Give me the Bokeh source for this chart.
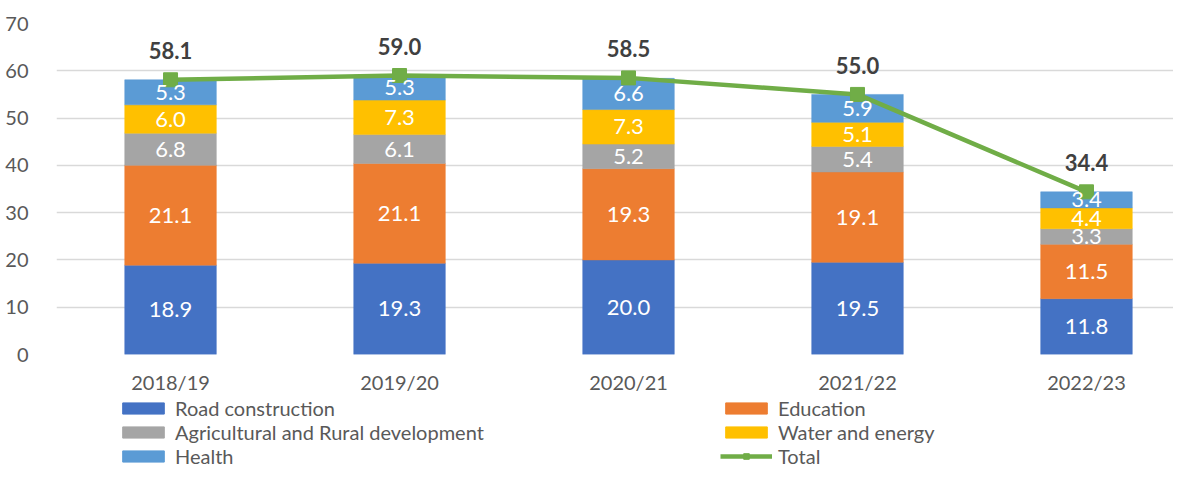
from bokeh.plotting import figure
from bokeh.layouts import column
from bokeh.models import ColumnDataSource, LabelSet, Legend, LegendItem, FixedTicker, Range1d
from bokeh.embed import file_html
from bokeh.resources import INLINE
from bokeh.core.properties import value

years = ["2018/19", "2019/20", "2020/21", "2021/22", "2022/23"]
road = [18.9, 19.3, 20.0, 19.5, 11.8]
education = [21.1, 21.1, 19.3, 19.1, 11.5]
agri = [6.8, 6.1, 5.2, 5.4, 3.3]
water = [6.0, 7.3, 7.3, 5.1, 4.4]
health = [5.3, 5.3, 6.6, 5.9, 3.4]
total = [58.1, 59.0, 58.5, 55.0, 34.4]

series_names = ["Road construction", "Education", "Agricultural and Rural development",
                "Water and energy", "Health"]
series_vals = [road, education, agri, water, health]
colors = ["#4472C4", "#ED7D31", "#A5A5A5", "#FFC000", "#5B9BD5"]
total_color = "#70AD47"

FONT = "Lato"
xs = list(range(len(years)))

p = figure(width=1173, height=396, output_backend="svg", toolbar_location=None,
           x_range=Range1d(-0.498, 4.380), y_range=Range1d(0, 70),
           min_border_left=56, min_border_right=0, min_border_top=23, min_border_bottom=41)
p.outline_line_color = None
p.background_fill_color = "white"
p.border_fill_color = "white"

bottoms = [0.0] * len(years)
for name, vals, col in zip(series_names, series_vals, colors):
    tops = [b + v for b, v in zip(bottoms, vals)]
    mids = [(b + t) / 2 for b, t in zip(bottoms, tops)]
    src = ColumnDataSource(dict(x=xs, bottom=bottoms, top=tops, mid=mids,
                                lab=[f"{v:.1f}" for v in vals]))
    p.vbar(x="x", bottom="bottom", top="top", width=0.4, source=src,
           fill_color=col, line_color=col, line_width=0.5)
    p.add_layout(LabelSet(x="x", y="mid", text="lab", source=src, text_color="white",
                          text_font=value(FONT), text_font_size="22px",
                          text_align="center", text_baseline="middle"))
    bottoms = tops

tsrc = ColumnDataSource(dict(x=xs, y=total, lab=[f"{v:.1f}" for v in total]))
p.line("x", "y", source=tsrc, line_color=total_color, line_width=4.5)
p.scatter("x", "y", source=tsrc, marker="square", size=14,
          fill_color=total_color, line_color=total_color)
p.add_layout(LabelSet(x="x", y="y", text="lab", source=tsrc, text_color="#404040",
                      text_font=value(FONT), text_font_size="22px", text_font_style="bold",
                      text_align="center", text_baseline="middle", y_offset=29))

# axes
p.xaxis.ticker = FixedTicker(ticks=xs)
p.xaxis.major_label_overrides = {i: y for i, y in enumerate(years)}
p.yaxis.ticker = FixedTicker(ticks=list(range(0, 71, 10)))
for ax in (p.xaxis[0], p.yaxis[0]):
    ax.axis_line_color = None
    ax.major_tick_line_color = None
    ax.minor_tick_line_color = None
    ax.major_label_text_font = FONT
    ax.major_label_text_font_size = "20px"
    ax.major_label_text_color = "#595959"
p.yaxis.major_label_standoff = 22
p.xaxis.major_label_standoff = 9
p.xgrid.grid_line_color = None
p.ygrid.grid_line_color = "#D9D9D9"
p.ygrid.grid_line_width = 1.5

# legend strip (separate figure below the chart); its glyphs sit outside its ranges
q = figure(width=1173, height=72, output_backend="svg", toolbar_location=None,
           x_range=Range1d(0, 1), y_range=Range1d(0, 1), min_border=0)
q.axis.visible = False
q.grid.visible = False
q.outline_line_color = None
q.border_fill_color = "white"
leg_bars = [q.vbar(x=[-10], top=[-10], bottom=[-11], width=0.4, fill_color=c, line_color=c)
            for c in colors]
leg_line = q.line(x=[-10, -9], y=[-10, -10], line_color=total_color, line_width=4.5)
leg_sq = q.scatter(x=[-10], y=[-10], marker="square", size=14,
                   fill_color=total_color, line_color=total_color)

items = [
    LegendItem(label=series_names[0], renderers=[leg_bars[0]]),
    LegendItem(label=series_names[2], renderers=[leg_bars[2]]),
    LegendItem(label=series_names[4], renderers=[leg_bars[4]]),
    LegendItem(label=series_names[1], renderers=[leg_bars[1]]),
    LegendItem(label=series_names[3], renderers=[leg_bars[3]]),
    LegendItem(label="Total", renderers=[leg_line, leg_sq]),
]
legend = Legend(items=items, ncols=2, location=(61, 0),
                glyph_width=52, glyph_height=14, label_height=20, label_width=545,
                label_standoff=6, spacing=-3, padding=0, margin=0,
                label_text_font=FONT, label_text_font_size="20px", label_text_color="#595959",
                border_line_color=None, background_fill_alpha=0)
q.add_layout(legend, "center")

layout = column(p, q, spacing=0)
open("out.html", "w").write(file_html(layout, INLINE))
